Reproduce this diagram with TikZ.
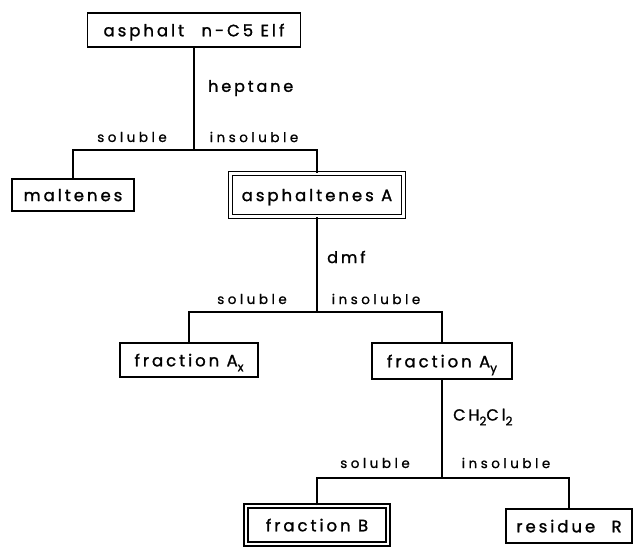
\documentclass[tikz,border=0pt]{standalone}
\usepackage{fontspec}
\setmainfont{Poppins}[LetterSpace=12,FakeBold=1]
\newfontfamily\boxfont{Poppins}[LetterSpace=18,FakeBold=1.3]
\newfontfamily\labfont{Poppins}[LetterSpace=26,FakeBold=0.9]
\newcommand{\sub}[1]{\raisebox{-0.55ex}{\fontsize{12}{12}\selectfont #1}}
\begin{document}
\begin{tikzpicture}[x=1pt,y=-1pt,
  every node/.style={inner sep=0pt},
  boxnode/.style={draw,line width=1.6pt,font=\boxfont\fontsize{16.5}{18}\selectfont,text depth=0pt},
  dboxnode/.style={boxnode,double,double distance=2.6pt,line width=1.3pt},
  lab/.style={font=\labfont\fontsize{13.5}{15}\selectfont},
  solv/.style={font=\boxfont\fontsize{16}{18}\selectfont,anchor=west},
  conn/.style={line width=1.6pt}]
\useasboundingbox (0,0) rectangle (634,547);
% boxes
\node[boxnode,minimum width=213pt,minimum height=34pt] (top) at (194,30) {asphalt\hspace{10pt} n-C5 Elf};
\node[boxnode,minimum width=122pt,minimum height=32pt] (malt) at (73,195) {maltenes};
\node[dboxnode,minimum width=173pt,minimum height=43pt] (asph) at (317,195) {asphaltenes A};
\node[boxnode,minimum width=138pt,minimum height=34pt] (ax) at (189,360) {fraction A\sub{x}};
\node[boxnode,minimum width=140pt,minimum height=36pt] (ay) at (442,361) {fraction A\sub{y}};
\node[dboxnode,minimum width=142pt,minimum height=38pt] (fb) at (317,525) {fraction B};
\node[boxnode,minimum width=126pt,minimum height=34pt] (res) at (569,526) {residue\hspace{9pt} R};
% junctions
\coordinate (j1) at (0,150);
\coordinate (j2) at (0,312);
\coordinate (j3) at (0,478);
% connectors
\draw[conn] (top.south) -- (top.south |- j1);
\draw[conn] (malt.north) |- (asph.north |- j1) -- (asph.north);
\draw[conn] (asph.south) -- (asph.south |- j2);
\draw[conn] (ax.north) |- (ay.north |- j2) -- (ay.north);
\draw[conn] (ay.south) -- (ay.south |- j3);
\draw[conn] (fb.north) |- (res.north |- j3) -- (res.north);
% labels
\node[solv] (l1) at (208,88) {heptane};
\node[lab] (s1) at (132,137) {soluble};
\node[lab] (i1) at (254,137) {insoluble};
\node[solv] (l2) at (327,257) {dmf};
\node[lab] (s2) at (252,299) {soluble};
\node[lab] (i2) at (376,299) {insoluble};
\node[solv] (l3) at (453,417) {CH\sub{2}Cl\sub{2}};
\node[lab] (s3) at (375,463) {soluble};
\node[lab] (i3) at (506,463) {insoluble};
\end{tikzpicture}
\end{document}
